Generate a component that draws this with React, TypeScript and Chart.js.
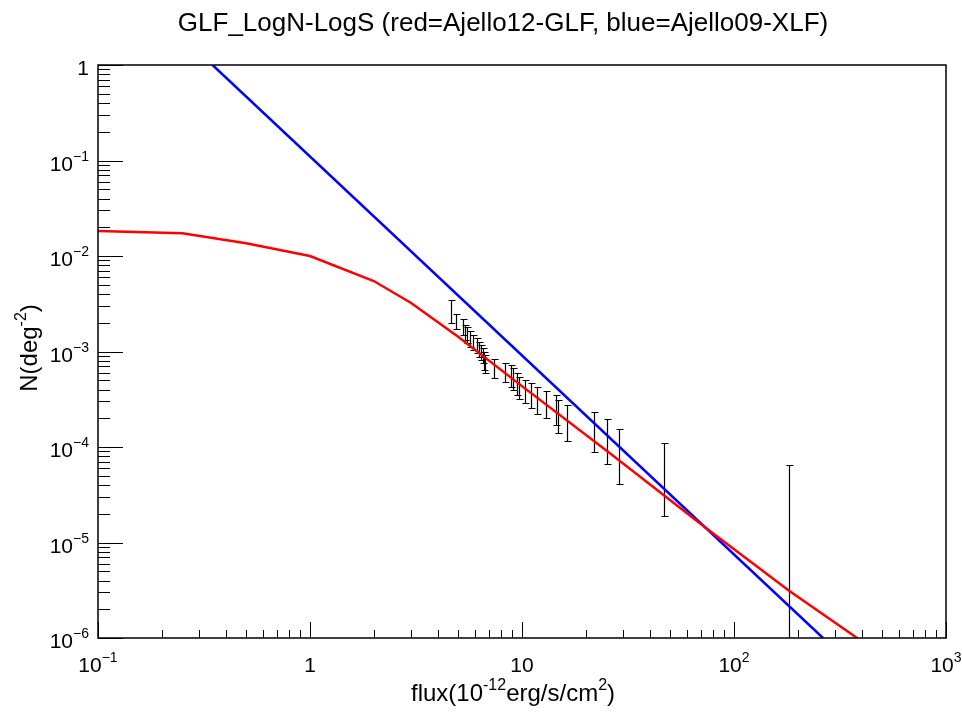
import React, { useEffect, useRef } from 'react';
import { Chart, registerables } from 'chart.js';

Chart.register(...registerables);

// Red curve: Ajello12-GLF
const redFlux = [0.1, 0.25, 0.5, 1, 2, 3, 5, 10, 26, 74, 182, 381];
const redN = [0.0183, 0.0173, 0.0136, 0.01, 0.00547, 0.00322, 0.00143, 4.34e-4, 8.59e-5, 1.41e-5, 3.13e-6, 1e-6];

// Blue line: Ajello09-XLF
const blueFlux = [0.347, 263];
const blueN = [1, 1e-6];

// Measured points with error bars
const dataFlux = [4.61, 4.88, 5.25, 5.40, 5.52, 5.68, 5.85, 6.11, 6.29, 6.38, 6.52, 6.62, 6.69, 7.38, 8.31, 8.87, 9.10, 9.50, 9.71, 10.33, 10.99, 11.73, 12.98, 14.48, 14.79, 16.26, 21.88, 25.1, 28.7, 46.5, 182.4];
const dataN = [2.61e-3, 2.05e-3, 1.80e-3, 1.58e-3, 1.48e-3, 1.36e-3, 1.24e-3, 1.15e-3, 1.06e-3, 9.77e-4, 9.02e-4, 7.98e-4, 7.36e-4, 6.59e-4, 6.07e-4, 5.56e-4, 5.13e-4, 4.55e-4, 4.15e-4, 3.80e-4, 3.44e-4, 3.08e-4, 2.77e-4, 2.44e-4, 2.08e-4, 1.78e-4, 1.45e-4, 1.13e-4, 7.96e-5, 4.58e-5, 2e-6];
const dataHigh = [3.46e-3, 2.47e-3, 2.17e-3, 1.89e-3, 1.79e-3, 1.65e-3, 1.49e-3, 1.37e-3, 1.27e-3, 1.17e-3, 1.08e-3, 9.95e-4, 9.19e-4, 8.29e-4, 7.63e-4, 7.22e-4, 6.67e-4, 5.91e-4, 5.45e-4, 5.03e-4, 4.65e-4, 4.28e-4, 3.85e-4, 3.51e-4, 3.10e-4, 2.75e-4, 2.34e-4, 1.95e-4, 1.54e-4, 1.11e-4, 6.48e-5];
const dataLow = [1.97e-3, 1.71e-3, 1.49e-3, 1.32e-3, 1.22e-3, 1.12e-3, 1.04e-3, 9.58e-4, 8.83e-4, 8.15e-4, 7.52e-4, 6.40e-4, 5.91e-4, 5.24e-4, 4.83e-4, 4.28e-4, 3.95e-4, 3.51e-4, 3.16e-4, 2.87e-4, 2.54e-4, 2.22e-4, 2.00e-4, 1.70e-4, 1.40e-4, 1.16e-4, 8.97e-5, 6.59e-5, 4.10e-5, 1.89e-5, 1e-7];

// Axis ticks and labels
const xTickValues = [0.1, 1, 10, 100, 1000];
const xTickBase = ['10', '1', '10', '10', '10'];
const xTickSup = ['\u22121', '', '', '2', '3'];
const yTickValues = [1, 0.1, 0.01, 1e-3, 1e-4, 1e-5, 1e-6];
const yTickBase = ['1', '10', '10', '10', '10', '10', '10'];
const yTickSup = ['', '\u22121', '\u22122', '\u22123', '\u22124', '\u22125', '\u22126'];

const titleText = 'GLF_LogN-LogS (red=Ajello12-GLF, blue=Ajello09-XLF)';
const xTitleParts: [string, boolean][] = [['flux(10', false], ['-12', true], ['erg/s/cm', false], ['2', true], [')', false]];
const yTitleParts: [string, boolean][] = [['N(deg', false], ['-2', true], [')', false]];

const FONT = '"Liberation Sans", Arial, Helvetica, sans-serif';

function partsWidth(ctx: CanvasRenderingContext2D, parts: [string, boolean][], size: number, supSize: number) {
  let w = 0;
  for (const [t, s] of parts) {
    ctx.font = `${s ? supSize : size}px ${FONT}`;
    w += ctx.measureText(t).width;
  }
  return w;
}

function drawParts(ctx: CanvasRenderingContext2D, parts: [string, boolean][], x: number, y: number, align: 'left' | 'center' | 'right', size: number, supSize: number, rise: number) {
  const w = partsWidth(ctx, parts, size, supSize);
  let cx = align === 'left' ? x : align === 'center' ? x - w / 2 : x - w;
  ctx.textAlign = 'left';
  ctx.textBaseline = 'alphabetic';
  for (const [t, s] of parts) {
    ctx.font = `${s ? supSize : size}px ${FONT}`;
    ctx.fillText(t, cx, s ? y - rise : y);
    cx += ctx.measureText(t).width;
  }
}

const rootPlugin = {
  id: 'rootStyle',
  beforeDatasetsDraw(chart: any) {
    const { ctx, chartArea: a, scales } = chart;
    const x = scales.x, y = scales.y;
    ctx.save();
    ctx.beginPath();
    ctx.rect(a.left, a.top, a.right - a.left, a.bottom - a.top);
    ctx.clip();
    ctx.strokeStyle = '#000';
    ctx.lineWidth = 1.2;
    for (let i = 0; i < dataFlux.length; i++) {
      const px = Math.round(x.getPixelForValue(dataFlux[i])) + 0.5;
      const yh = Math.round(y.getPixelForValue(dataHigh[i])) + 0.5;
      const yl = Math.round(y.getPixelForValue(dataLow[i])) + 0.5;
      ctx.beginPath();
      ctx.moveTo(px, yh); ctx.lineTo(px, yl);
      ctx.moveTo(px - 3, yh); ctx.lineTo(px + 4, yh);
      ctx.moveTo(px - 3, yl); ctx.lineTo(px + 4, yl);
      ctx.stroke();
    }
    ctx.restore();
  },
  afterDraw(chart: any) {
    const { ctx, chartArea: a, scales } = chart;
    const x = scales.x, y = scales.y;
    ctx.save();
    ctx.strokeStyle = '#000';
    ctx.fillStyle = '#000';
    // frame
    ctx.lineWidth = 1.5;
    ctx.strokeRect(a.left, a.top, a.right - a.left, a.bottom - a.top);
    ctx.lineWidth = 1;
    // x ticks
    ctx.beginPath();
    for (let e = -1; e <= 3; e++) {
      for (let m = 1; m <= 9; m++) {
        const v = m * Math.pow(10, e);
        if (v > 1000.0001) continue;
        const px = Math.round(x.getPixelForValue(v)) + 0.5;
        const len = m === 1 ? 16 : 8;
        ctx.moveTo(px, a.bottom);
        ctx.lineTo(px, a.bottom - len);
      }
    }
    // y ticks
    for (let e = -6; e <= 0; e++) {
      for (let m = 1; m <= 9; m++) {
        const v = m * Math.pow(10, e);
        if (v > 1.0001) continue;
        const py = Math.round(y.getPixelForValue(v)) + 0.5;
        const len = m === 1 ? 25 : 12;
        ctx.moveTo(a.left, py);
        ctx.lineTo(a.left + len, py);
      }
    }
    ctx.stroke();
    // tick labels
    for (let i = 0; i < xTickValues.length; i++) {
      const px = x.getPixelForValue(xTickValues[i]);
      const parts: [string, boolean][] = [[xTickBase[i], false]];
      if (xTickSup[i]) parts.push([xTickSup[i], true]);
      drawParts(ctx, parts, px, a.bottom + 34, 'center', 21, 14, 10);
    }
    for (let i = 0; i < yTickValues.length; i++) {
      const py = y.getPixelForValue(yTickValues[i]);
      const parts: [string, boolean][] = [[yTickBase[i], false]];
      if (yTickSup[i]) parts.push([yTickSup[i], true]);
      drawParts(ctx, parts, a.left - 9, py + 10, 'right', 21, 14, 10);
    }
    // title
    ctx.font = `26px ${FONT}`;
    ctx.textAlign = 'center';
    ctx.textBaseline = 'alphabetic';
    ctx.fillText(titleText, 503, 31);
    // axis titles
    drawParts(ctx, xTitleParts, 513, 701, 'center', 24, 16, 11);
    ctx.save();
    ctx.translate(37, 348);
    ctx.rotate(-Math.PI / 2);
    drawParts(ctx, yTitleParts, 0, 0, 'center', 24, 16, 11);
    ctx.restore();
    ctx.restore();
  },
};

export default function App() {
  const ref = useRef<HTMLCanvasElement | null>(null);
  useEffect(() => {
    if (!ref.current) return;
    const chart = new Chart(ref.current, {
      type: 'scatter',
      data: {
        datasets: [
          {
            label: 'points',
            data: dataFlux.map((f, i) => ({ x: f, y: dataN[i] })),
            pointRadius: 0,
            showLine: false,
          },
          {
            label: 'Ajello12-GLF',
            data: redFlux.map((f, i) => ({ x: f, y: redN[i] })),
            showLine: true,
            borderColor: '#ff0000',
            borderWidth: 2.5,
            pointRadius: 0,
            tension: 0,
            fill: false,
          },
          {
            label: 'Ajello09-XLF',
            data: blueFlux.map((f, i) => ({ x: f, y: blueN[i] })),
            showLine: true,
            borderColor: '#0000ff',
            borderWidth: 2.5,
            pointRadius: 0,
            tension: 0,
            fill: false,
          },
        ],
      },
      options: {
        responsive: false,
        animation: false,
        layout: { padding: { left: 98, right: 16, top: 65, bottom: 77 } },
        plugins: { legend: { display: false }, title: { display: false }, tooltip: { enabled: false } },
        scales: {
          x: { type: 'logarithmic', min: 0.1, max: 1000, display: false },
          y: { type: 'logarithmic', min: 1e-6, max: 1, display: false },
        },
      },
      plugins: [rootPlugin],
    });
    return () => chart.destroy();
  }, []);
  return (
    <div style={{ position: 'fixed', left: 0, top: 0, width: 962, height: 715, background: '#fff' }}>
      <canvas ref={ref} width={962} height={715} style={{ width: 962, height: 715, display: 'block' }} />
    </div>
  );
}
